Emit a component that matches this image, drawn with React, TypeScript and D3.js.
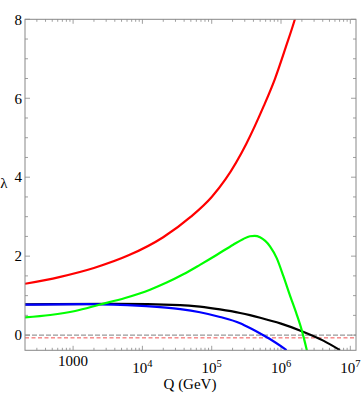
import React from "react";
import * as d3 from "d3";

// log10(Q/GeV) and lambda values
const redLogQ = [2.306, 2.8, 3.3, 3.8, 4.3, 4.7, 5.0, 5.2, 5.5, 5.75, 5.91, 6.07, 6.2, 6.35];
const redLam = [1.3, 1.47, 1.7, 2.02, 2.48, 3.0, 3.5, 3.95, 4.85, 5.8, 6.48, 7.3, 8.0, 9.0];

const greenLogQ = [2.306, 2.67, 3.03, 3.39, 3.75, 4.11, 4.35, 4.59, 4.83, 5.07, 5.31, 5.45, 5.552, 5.62, 5.697, 5.841, 5.938, 6.033, 6.13, 6.227, 6.3, 6.375];
const greenLam = [0.45, 0.51, 0.61, 0.775, 0.94, 1.15, 1.33, 1.54, 1.78, 2.03, 2.29, 2.43, 2.505, 2.515, 2.48, 2.25, 1.95, 1.5, 1.0, 0.52, 0.12, -0.4];

const blueLogQ = [2.306, 3.2, 3.99, 4.546, 4.83, 5.12, 5.41, 5.552, 5.7, 5.84, 6.08];
const blueLam = [0.77, 0.785, 0.74, 0.66, 0.58, 0.46, 0.3, 0.18, 0.04, -0.1, -0.38];

const blackLogQ = [2.306, 3.6, 4.546, 4.83, 5.12, 5.41, 5.552, 5.7, 6.0, 6.3, 6.61, 6.85];
const blackLam = [0.78, 0.79, 0.76, 0.72, 0.65, 0.56, 0.505, 0.44, 0.29, 0.1, -0.14, -0.38];

const refGray = 0;
const refRed = -0.07;

const xMajorExps = [3, 4, 5, 6, 7];
const yMajorTicks = [0, 2, 4, 6, 8];

const W = 361;
const H = 395;
const L = 25, R = 356, T = 19.3, B = 350.3;

export default function App() {
  const x = d3.scaleLog().domain([Math.pow(10, 2.306), Math.pow(10, 7.082)]).range([L, R]);
  const y = d3.scaleLinear().domain([-0.385, 8]).range([B, T]);

  const mk = (lq: number[], lam: number[]) =>
    d3
      .line<number>()
      .x((_, i) => x(Math.pow(10, lq[i])))
      .y((_, i) => y(lam[i]))
      .curve(d3.curveMonotoneX)(lam) as string;

  const series = [
    { lq: blackLogQ, lam: blackLam, color: "#000000" },
    { lq: blueLogQ, lam: blueLam, color: "#0000ff" },
    { lq: greenLogQ, lam: greenLam, color: "#00ff00" },
    { lq: redLogQ, lam: redLam, color: "#ff0000" },
  ];

  const xMinor: number[] = [];
  for (let e = 2; e <= 7; e++) {
    for (let m = 1; m <= 9; m++) {
      const v = m * Math.pow(10, e);
      const px = x(v);
      if (px >= L - 0.01 && px <= R + 0.01) xMinor.push(v);
    }
  }
  const yMinor: number[] = [];
  for (let v = 0; v <= 8.001; v += 0.5) yMinor.push(v);

  const axisColor = "#888";
  const font = "'Liberation Serif', 'DejaVu Serif', serif";

  return (
    <svg width={W} height={H} style={{ position: "absolute", left: 0, top: 0, background: "#fff" }}>
      <defs>
        <clipPath id="plotclip">
          <rect x={L} y={T} width={R - L} height={B - T} />
        </clipPath>
      </defs>
      <rect x={0} y={0} width={W} height={H} fill="#fff" />

      {xMinor.map((v, i) => {
        const major = Math.abs(Math.log10(v) - Math.round(Math.log10(v))) < 1e-9;
        const len = major ? 4.5 : 2.5;
        return (
          <g key={"xt" + i} stroke={axisColor} strokeWidth={0.8}>
            <line x1={x(v)} x2={x(v)} y1={B} y2={B - len} />
            <line x1={x(v)} x2={x(v)} y1={T} y2={T + len} />
          </g>
        );
      })}
      {yMinor.map((v, i) => {
        const major = Math.abs(v % 2) < 1e-9;
        const len = major ? 5 : 3;
        return (
          <g key={"yt" + i} stroke={axisColor} strokeWidth={0.8}>
            <line x1={L} x2={L + len} y1={y(v)} y2={y(v)} />
            <line x1={R} x2={R - len} y1={y(v)} y2={y(v)} />
          </g>
        );
      })}

      <line x1={L} x2={R} y1={y(refGray)} y2={y(refGray)} stroke="#999" strokeWidth={1.4} strokeDasharray="5,2" />
      <line x1={L} x2={R} y1={y(refRed)} y2={y(refRed)} stroke="#f05050" strokeWidth={1} strokeDasharray="4,2.5" />

      <g clipPath="url(#plotclip)">
        {series.map((s, i) => (
          <path key={i} d={mk(s.lq, s.lam)} fill="none" stroke={s.color} strokeWidth={2.2} strokeLinejoin="round" />
        ))}
      </g>

      <rect x={L} y={T} width={R - L} height={B - T} fill="none" stroke={axisColor} strokeWidth={1} />

      {yMajorTicks.map((v) => (
        <text key={"yl" + v} x={22} y={y(v)} dy="0.35em" textAnchor="end" fontFamily={font} fontSize={15} fill="#000">
          {v}
        </text>
      ))}

      {xMajorExps.map((e) =>
        e === 3 ? (
          <text key={"xl" + e} x={x(1000)} y={366} textAnchor="middle" fontFamily={font} fontSize={15} fill="#000">
            1000
          </text>
        ) : (
          <text key={"xl" + e} x={x(Math.pow(10, e))} y={373} textAnchor="middle" fontFamily={font} fontSize={15} fill="#000">
            10
            <tspan fontSize={10.5} dy={-6}>
              {e}
            </tspan>
          </text>
        )
      )}

      <text x={190} y={389} textAnchor="middle" fontFamily={font} fontSize={15} fill="#000">
        Q (GeV)
      </text>
      <text x={4} y={188} textAnchor="middle" fontFamily={font} fontSize={15} fill="#000">
        λ
      </text>
    </svg>
  );
}
